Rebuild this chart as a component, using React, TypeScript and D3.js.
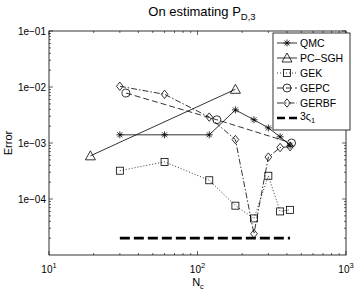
import React from "react";
import * as d3 from "d3";

const nc = [30, 60, 120, 180, 240, 300, 360, 420];
const qmcErr = [1.4e-3, 1.4e-3, 1.4e-3, 3.9e-3, 2.6e-3, 1.86e-3, 1.29e-3, 9.1e-4];
const pcsghN = [19, 180];
const pcsghErr = [5.9e-4, 9.1e-3];
const gekErr = [3.2e-4, 4.6e-4, 2.16e-4, 7.6e-5, 4.5e-5, 2.6e-4, 6.0e-5, 6.4e-5];
const gepcN = [33, 135, 430];
const gepcErr = [7.8e-3, 2.6e-3, 1.0e-3];
const gerbfErr = [1.03e-2, 7.4e-3, 2.9e-3, 1.15e-3, 2.4e-5, 5.6e-4, 8.3e-4, 8.6e-4];
const sigmaN = [30, 420];
const sigmaErr = [2e-5, 2e-5];
const yTicks = [1e-1, 1e-2, 1e-3, 1e-4];
const yTickLabels = ["1e\u221201", "1e\u221202", "1e\u221203", "1e\u221204"];
const xTicks = [10, 100, 1000];
const xTickExp = ["1", "2", "3"];
const legendNames = ["QMC", "PC\u2013SGH", "GEK", "GEPC", "GERBF"];

const W = 357, H = 290;
const L = 49, R = 346, T = 31, B = 255;
const FONT = "'Liberation Sans', Arial, Helvetica, sans-serif";

type Marker = "star" | "tri" | "sq" | "circ" | "diam";

function MarkerShape({ kind, cx, cy }: { kind: Marker; cx: number; cy: number }) {
  const st = { fill: "none", stroke: "#000", strokeWidth: 0.8 };
  if (kind === "star") {
    const r = 3.5, d = 2.5;
    return (
      <g {...st}>
        <line x1={cx - r} y1={cy} x2={cx + r} y2={cy} />
        <line x1={cx} y1={cy - r} x2={cx} y2={cy + r} />
        <line x1={cx - d} y1={cy - d} x2={cx + d} y2={cy + d} />
        <line x1={cx - d} y1={cy + d} x2={cx + d} y2={cy - d} />
      </g>
    );
  }
  if (kind === "tri") {
    const r = 5;
    return <path {...st} d={`M${cx},${cy - r}L${cx + r},${cy + r * 0.8}L${cx - r},${cy + r * 0.8}Z`} />;
  }
  if (kind === "sq") {
    const r = 3.5;
    return <rect {...st} x={cx - r} y={cy - r} width={2 * r} height={2 * r} />;
  }
  if (kind === "circ") {
    return <circle {...st} cx={cx} cy={cy} r={4} />;
  }
  const r = 4.2;
  return <path {...st} d={`M${cx},${cy - r}L${cx + r * 0.8},${cy}L${cx},${cy + r}L${cx - r * 0.8},${cy}Z`} />;
}

export default function App() {
  const x = d3.scaleLog().domain([10, 1000]).range([L, R]);
  const y = d3.scaleLog().domain([1e-5, 1e-1]).range([B, T]);
  const line = d3.line<[number, number]>().x((d) => x(d[0])).y((d) => y(d[1]));

  const series: { n: number[]; e: number[]; m: Marker; dash: string; name: string }[] = [
    { n: nc, e: qmcErr, m: "star", dash: "none", name: legendNames[0] },
    { n: pcsghN, e: pcsghErr, m: "tri", dash: "none", name: legendNames[1] },
    { n: nc, e: gekErr, m: "sq", dash: "1 2", name: legendNames[2] },
    { n: gepcN, e: gepcErr, m: "circ", dash: "6 3", name: legendNames[3] },
    { n: nc, e: gerbfErr, m: "diam", dash: "6 2 1.5 2", name: legendNames[4] },
  ];

  const yMinor: number[] = [];
  for (let p = -5; p < -1; p++) for (let k = 2; k <= 9; k++) yMinor.push(k * Math.pow(10, p));
  const xMinor: number[] = [];
  for (let p = 1; p < 3; p++) for (let k = 2; k <= 9; k++) xMinor.push(k * Math.pow(10, p));

  const lx0 = 273, lx1 = 350, ly0 = 33, ly1 = 130;
  const rowY = (i: number) => 43 + i * 15;

  return (
    <svg width={W} height={H} style={{ position: "absolute", left: 0, top: 0 }} fontFamily={FONT}>
      <rect x={0} y={0} width={W} height={H} fill="#fff" />
      <rect x={L} y={T} width={R - L} height={B - T} fill="#fff" />
      <g stroke="#000" strokeWidth={0.6}>
        {yTicks.map((t) => (
          <g key={"yt" + t}>
            <line x1={L} x2={L + 4} y1={y(t)} y2={y(t)} />
            <line x1={R} x2={R - 4} y1={y(t)} y2={y(t)} />
          </g>
        ))}
        {yMinor.map((t) => (
          <g key={"ym" + t}>
            <line x1={L} x2={L + 2} y1={y(t)} y2={y(t)} />
            <line x1={R} x2={R - 2} y1={y(t)} y2={y(t)} />
          </g>
        ))}
        {xTicks.map((t) => (
          <g key={"xt" + t}>
            <line x1={x(t)} x2={x(t)} y1={B} y2={B - 4} />
            <line x1={x(t)} x2={x(t)} y1={T} y2={T + 4} />
          </g>
        ))}
        {xMinor.map((t) => (
          <g key={"xm" + t}>
            <line x1={x(t)} x2={x(t)} y1={B} y2={B - 2} />
            <line x1={x(t)} x2={x(t)} y1={T} y2={T + 2} />
          </g>
        ))}
      </g>
      {series.map((s, i) => (
        <g key={"s" + i}>
          <path
            d={line(s.n.map((n, j) => [n, s.e[j]] as [number, number])) || ""}
            fill="none"
            stroke="#000"
            strokeWidth={0.8}
            strokeDasharray={s.dash}
          />
          {s.n.map((n, j) => (
            <MarkerShape key={j} kind={s.m} cx={x(n)} cy={y(s.e[j])} />
          ))}
        </g>
      ))}
      <path
        d={line(sigmaN.map((n, j) => [n, sigmaErr[j]] as [number, number])) || ""}
        fill="none"
        stroke="#000"
        strokeWidth={2.6}
        strokeDasharray="10 4"
      />
      <rect x={L} y={T} width={R - L} height={B - T} fill="none" stroke="#000" strokeWidth={0.8} />
      {yTicks.map((t, i) => (
        <text key={"yl" + t} x={L - 3} y={y(t) + 3.5} fontSize={10} textAnchor="end">
          {yTickLabels[i]}
        </text>
      ))}
      {xTicks.map((t, i) => (
        <text key={"xl" + t} x={x(t)} y={273} fontSize={10} textAnchor="middle">
          10<tspan dy={-5} fontSize={7.5}>{xTickExp[i]}</tspan>
        </text>
      ))}
      <text x={198} y={285.5} fontSize={11} textAnchor="middle">
        N<tspan dy={3} fontSize={7.5}>c</tspan>
      </text>
      <text transform={`translate(12,${(T + B) / 2}) rotate(-90)`} fontSize={11} textAnchor="middle">
        Error
      </text>
      <text x={202} y={16} fontSize={13} textAnchor="middle">
        On estimating P<tspan dy={4} fontSize={9.5}>D,3</tspan>
      </text>
      <rect x={lx0} y={ly0} width={lx1 - lx0} height={ly1 - ly0} fill="#fff" stroke="#000" strokeWidth={0.8} />
      {series.map((s, i) => (
        <g key={"lg" + i}>
          <line x1={277} x2={297} y1={rowY(i)} y2={rowY(i)} stroke="#000" strokeWidth={0.8} strokeDasharray={s.dash} />
          <MarkerShape kind={s.m} cx={287} cy={rowY(i)} />
          <text x={300} y={rowY(i) + 3.5} fontSize={10.5}>
            {s.name}
          </text>
        </g>
      ))}
      <line x1={277} x2={298} y1={rowY(5)} y2={rowY(5)} stroke="#000" strokeWidth={2.6} strokeDasharray="8 4" />
      <text x={300} y={rowY(5) + 2} fontSize={10.5}>
        3ς<tspan dy={3} fontSize={7.5}>1</tspan>
      </text>
    </svg>
  );
}
